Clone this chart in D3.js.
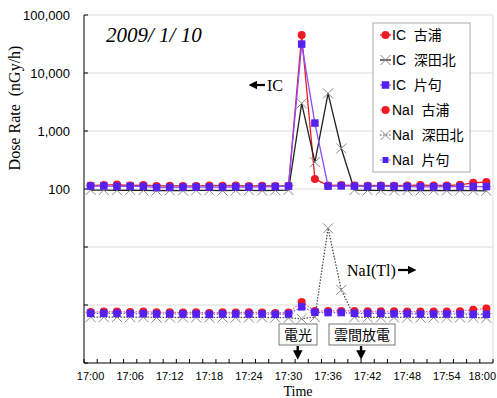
<!DOCTYPE html>
<html><head><meta charset="utf-8">
<script src="https://cdn.jsdelivr.net/npm/d3@7"></script>
<style>
html,body{margin:0;padding:0;background:#fff;}
svg{display:block;}
</style></head>
<body>
<svg id="chart" width="497" height="398"></svg>
<script>
// ---------- data ----------
const times = ["17:00","17:02","17:04","17:06","17:08","17:10","17:12","17:14","17:16","17:18","17:20","17:22","17:24","17:26","17:28","17:30","17:32","17:34","17:36","17:38","17:40","17:42","17:44","17:46","17:48","17:50","17:52","17:54","17:56","17:58","18:00"];
const tickLabels = ["17:00","17:06","17:12","17:18","17:24","17:30","17:36","17:42","17:48","17:54","18:00"];
const yTickValues = [100, 1000, 10000, 100000];

// IC dose rate (nGy/h)
const icKoura    = [115,117,119,115,117,113,114,113,113,115,114,115,113,114,113,114,45000,149,115,117,115,114,115,114,115,117,115,115,118,128,132];
const icFukadakita = [96,96,95,96,95,94,95,94,95,95,94,95,95,94,95,96,3000,290,4450,500,96,95,95,94,95,94,95,94,95,94,93];
const icKatak    = [112,113,111,112,111,106,107,108,108,108,108,109,108,109,110,112,31500,1370,112,113,112,111,112,111,110,109,109,110,110,110,110];

// NaI(Tl) dose rate (nGy/h, secondary hidden axis)
const naiKoura   = [76,77,77,76,77,75,75,74,75,73,75,74,75,74,73,74,113,79,79,79,79,78,78,78,77,77,77,77,78,83,87];
const naiFukadakita = [62,62,62,62,62,61,61,61,61,61,61,61,61,61,61,60,58,62,2100,182,62,61,61,61,61,61,61,61,61,61,60];
const naiKatak   = [72,72,72,71,71,70,70,70,70,69,70,70,70,70,69,70,93,75,74,74,72,72,72,71,71,70,70,70,70,69,69];

const seriesNames = ["IC 古浦","IC 深田北","IC 片句","NaI 古浦","NaI 深田北","NaI 片句"];

// ---------- layout ----------
const svg = d3.select("#chart");
const L = 84, R = 493, T = 15, B = 363;

const x = d3.scaleBand().domain(times).range([L, R]).paddingInner(0).paddingOuter(0);
const cx = t => x(t) + x.bandwidth() / 2;
const y = d3.scaleLog().domain([0.1, 100000]).range([B, T]);
const yN = d3.scaleLog().domain([10, 1e7]).range([B, T]);

// gridlines
const gridVals = [1, 10, 100, 1000, 10000, 100000];
svg.append("g").selectAll("line").data(gridVals).join("line")
  .attr("x1", L).attr("x2", R).attr("y1", d => y(d)).attr("y2", d => y(d))
  .attr("stroke", "#dcdcdc").attr("stroke-width", 1);
svg.append("line").attr("x1", R).attr("x2", R).attr("y1", T).attr("y2", B)
  .attr("stroke", "#dcdcdc").attr("stroke-width", 1);

// y axis
const yAxis = d3.axisLeft(y).tickValues(yTickValues).tickFormat(d3.format(",")).tickSize(0).tickPadding(14);
const gy = svg.append("g").attr("transform", `translate(${L},0)`).call(yAxis);
gy.select(".domain").remove();
gy.selectAll("text").attr("font-family", "Liberation Sans, Arial, sans-serif").attr("font-size", 13).attr("fill", "#000");
svg.append("line").attr("x1", L).attr("x2", L).attr("y1", T).attr("y2", B).attr("stroke", "#000").attr("stroke-width", 1);
svg.append("g").selectAll("line").data([0.1, 1, 10, 100, 1000, 10000, 100000]).join("line")
  .attr("x1", L).attr("x2", L + 4).attr("y1", d => y(d)).attr("y2", d => y(d)).attr("stroke", "#000");

// x axis
const xAxis = d3.axisBottom(x).tickValues(tickLabels).tickSize(0).tickPadding(9);
const gx = svg.append("g").attr("transform", `translate(0,${B})`).call(xAxis);
gx.select(".domain").remove();
gx.selectAll("text").attr("font-family", "Liberation Sans, Arial, sans-serif").attr("font-size", 11).attr("fill", "#000");
// keep the last label inside the window
gx.selectAll(".tick").filter(d => d === tickLabels[tickLabels.length - 1]).select("text")
  .attr("text-anchor", "end").attr("x", 496 - cx(tickLabels[tickLabels.length - 1]));
svg.append("line").attr("x1", L).attr("x2", R).attr("y1", B).attr("y2", B).attr("stroke", "#000").attr("stroke-width", 1.2);
const bounds = times.map(t => x(t)).concat([R]);
svg.append("g").selectAll("line").data(bounds).join("line")
  .attr("x1", d => d).attr("x2", d => d).attr("y1", B).attr("y2", B - 4).attr("stroke", "#000");

// titles
svg.append("text").attr("transform", "translate(20,108) rotate(-90)").attr("text-anchor", "middle")
  .attr("font-family", "Liberation Serif, Times New Roman, serif").attr("font-size", 16)
  .style("white-space", "pre").text("Dose Rate  (nGy/h)");
svg.append("text").attr("x", 298).attr("y", 395.5).attr("text-anchor", "middle")
  .attr("font-family", "Liberation Serif, Times New Roman, serif").attr("font-size", 14).text("Time");
svg.append("text").attr("x", 106).attr("y", 42)
  .attr("font-family", "Liberation Serif, Times New Roman, serif").attr("font-style", "italic").attr("font-size", 21)
  .style("white-space", "pre").text("2009/ 1/ 10");

// ---------- series ----------
const RED = "#f01a24", BLUE = "#5520f0", PURPLE = "#8a4cff", BLACK = "#222", GRAY = "#8a8a8a";

function marker(g, type, px, py, small) {
  if (type === "circle") {
    g.append("circle").attr("cx", px).attr("cy", py).attr("r", 4).attr("fill", RED);
  } else if (type === "square") {
    const s = small ? 6 : 7.5;
    g.append("rect").attr("x", px - s / 2).attr("y", py - s / 2).attr("width", s).attr("height", s).attr("fill", BLUE);
  } else {
    const s = 5;
    g.append("path").attr("d", `M${px - s},${py - s}L${px + s},${py + s}M${px - s},${py + s}L${px + s},${py - s}`)
      .attr("stroke", GRAY).attr("stroke-width", 1).attr("fill", "none");
  }
}

const series = [
  {vals: icKoura, scale: y, line: RED, dash: null, m: "circle", w: 1.3},
  {vals: icFukadakita, scale: y, line: BLACK, dash: null, m: "x", w: 1.3},
  {vals: icKatak, scale: y, line: PURPLE, dash: null, m: "square", w: 1.3},
  {vals: naiKoura, scale: yN, line: "#ff5a7a", dash: "1.5,1.5", m: "circle", w: 1.2},
  {vals: naiFukadakita, scale: yN, line: "#444", dash: "1.5,1.5", m: "x", w: 1.2},
  {vals: naiKatak, scale: yN, line: "#6a50ff", dash: "1.5,1.5", m: "square", w: 1.2}
];

series.forEach(s => {
  const g = svg.append("g");
  const lineGen = d3.line().x((d, i) => cx(times[i])).y(d => s.scale(d));
  g.append("path").attr("d", lineGen(s.vals)).attr("fill", "none")
    .attr("stroke", s.line).attr("stroke-width", s.w).attr("stroke-dasharray", s.dash);
  s.vals.forEach((v, i) => marker(g, s.m, cx(times[i]), s.scale(v), false));
});

// ---------- annotations ----------
const defs = svg.append("defs");
defs.append("marker").attr("id", "ah").attr("viewBox", "0 0 10 10").attr("refX", 5).attr("refY", 5)
  .attr("markerWidth", 4).attr("markerHeight", 4).attr("orient", "auto-start-reverse")
  .append("path").attr("d", "M0,0L10,5L0,10z").attr("fill", "#000");

// <- IC
svg.append("line").attr("x1", 265).attr("y1", 85).attr("x2", 253).attr("y2", 85)
  .attr("stroke", "#000").attr("stroke-width", 2.2).attr("marker-end", "url(#ah)");
svg.append("text").attr("x", 267).attr("y", 91).attr("font-family", "Liberation Serif, Times New Roman, serif")
  .attr("font-size", 16).text("IC");
// NaI(Tl) ->
svg.append("text").attr("x", 347).attr("y", 276).attr("font-family", "Liberation Serif, Times New Roman, serif")
  .attr("font-size", 16).text("NaI(Tl)");
svg.append("line").attr("x1", 398).attr("y1", 270).attr("x2", 412).attr("y2", 270)
  .attr("stroke", "#000").attr("stroke-width", 2.2).attr("marker-end", "url(#ah)");

// event boxes
const events = [
  {label: "電光", minute: 31.4, x0: 279, w: 38},
  {label: "雲間放電", minute: 41, x0: 329, w: 66}
];
const minuteX = d3.scaleLinear().domain([0, 60]).range([cx(times[0]), cx(times[times.length - 1])]);
events.forEach(e => {
  svg.append("rect").attr("x", e.x0).attr("y", 324).attr("width", e.w).attr("height", 21)
    .attr("fill", "#fff").attr("stroke", "#777").attr("stroke-width", 1);
  svg.append("text").attr("x", e.x0 + e.w / 2).attr("y", 340).attr("text-anchor", "middle")
    .attr("font-family", "Noto Sans CJK JP, sans-serif").attr("font-size", 14).text(e.label);
  const ax = minuteX(e.minute);
  svg.append("line").attr("x1", ax).attr("x2", ax).attr("y1", 346).attr("y2", 355)
    .attr("stroke", "#000").attr("stroke-width", 2.4).attr("marker-end", "url(#ah)");
});

// ---------- legend ----------
const lg = svg.append("g");
lg.append("rect").attr("x", 373).attr("y", 23).attr("width", 97).attr("height", 149)
  .attr("fill", "#fff").attr("stroke", "#aaa").attr("stroke-width", 1);
series.forEach((s, i) => {
  const ry = 35 + i * 25;
  lg.append("line").attr("x1", 380).attr("x2", 391).attr("y1", ry).attr("y2", ry)
    .attr("stroke", s.line).attr("stroke-width", s.w).attr("stroke-dasharray", s.dash);
  marker(lg, s.m, 385.5, ry, i === 5);
  lg.append("text").attr("x", 392).attr("y", ry + 5)
    .attr("font-family", "Liberation Sans, Noto Sans CJK JP, sans-serif").attr("font-size", 14)
    .style("white-space", "pre").text(seriesNames[i].replace(" ", "  "));
});
</script>
</body></html>
